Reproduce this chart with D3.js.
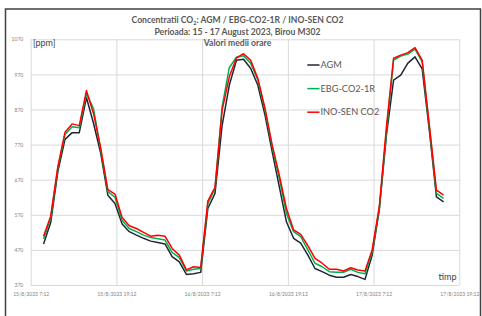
<!DOCTYPE html>
<html>
<head>
<meta charset="utf-8">
<script src="https://cdn.jsdelivr.net/npm/d3@7"></script>
<style>
  body { margin: 0; background: #fff; }
  svg { display: block; font-family: Lato, "Open Sans", sans-serif; }
</style>
</head>
<body>
<svg width="482" height="316"></svg>
<script>
// hourly means, 15/8/2023 9:00 -> 17/8/2023 17:00
const agm = [487,548,693,785,804,804,904,830,745,626,602,544,522,512,503,495,491,487,451,
  436,400,402,406,588,631,825,939,1010,1013,987,939,854,750,650,550,503,489,455,417,
  408,398,392,392,400,394,386,455,584,797,954,968,1002,1020,986,811,621,607];
const ebg = [501,560,702,799,821,818,916,872,756,636,620,554,531,522,512,505,502,498,463,
  448,410,415,417,602,645,878,989,1019,1023,1001,954,868,764,674,574,522,508,470,432,
  422,408,406,406,415,406,402,463,588,807,1011,1022,1028,1042,1006,821,631,617];
const ino = [509,566,707,805,829,824,924,858,760,642,629,562,539,531,520,509,512,509,474,
  455,413,422,420,609,648,868,963,1017,1029,1010,958,873,769,683,588,527,514,482,446,
  432,415,415,410,419,413,410,470,593,821,1016,1025,1032,1046,1011,826,640,626];
const seriesNames = ["AGM", "EBG-CO2-1R", "INO-SEN CO2"];
const seriesColors = ["#1f2633", "#00b050", "#ff0000"];
const yTicks = [370,470,570,670,770,870,970,1070];
const xTickLabels = ["15/8/2023 7:12","15/8/2023 19:12","16/8/2023 7:12","16/8/2023 19:12","17/8/2023 7:12","17/8/2023 19:12"];

const svg = d3.select("svg");
const m = {left: 30.7, right: 459.3, top: 39.3, bottom: 285};

const t0 = new Date(2023, 7, 15, 7, 12), t1 = new Date(2023, 7, 17, 19, 12);
const xTicks = xTickLabels.map((d, i) => d3.timeHour.offset(t0, 12 * i));
const times = d3.timeHour.range(new Date(2023, 7, 15, 9), new Date(2023, 7, 17, 18));

const x = d3.scaleTime().domain([t0, t1]).range([m.left, m.right]);
const y = d3.scaleLinear().domain([370, 1070]).range([m.bottom, m.top]);

// outer frame
svg.append("rect").attr("x", 5.5).attr("y", 9).attr("width", 475).attr("height", 320)
  .attr("fill", "none").attr("stroke", "#404040").attr("stroke-width", 1.5);

// gridlines
const gy = svg.append("g").attr("transform", `translate(${m.left},0)`)
  .call(d3.axisLeft(y).tickValues(yTicks).tickSize(-(m.right - m.left)).tickFormat(""));
const gx = svg.append("g").attr("transform", `translate(0,${m.bottom})`)
  .call(d3.axisBottom(x).tickValues(xTicks).tickSize(-(m.bottom - m.top)).tickFormat(""));
[gy, gx].forEach(g => {
  g.select(".domain").remove();
  g.selectAll("line").attr("stroke", "#d9d9d9").attr("stroke-width", 1);
});

// tick labels
const yAx = svg.append("g").attr("transform", `translate(${m.left - 4.5},0)`)
  .call(d3.axisLeft(y).tickValues(yTicks).tickSize(0).tickFormat(d3.format("d")));
const xAx = svg.append("g").attr("transform", `translate(0,${m.bottom + 4})`)
  .call(d3.axisBottom(x).tickValues(xTicks).tickSize(0).tickFormat((d, i) => xTickLabels[i]));
[yAx, xAx].forEach(g => {
  g.select(".domain").remove();
  g.selectAll("text").attr("fill", "#7f7f7f").style("font-size", "5px")
    .style("font-family", "Lato, sans-serif");
});

// lines
const line = d3.line().x((d, i) => x(times[i])).y(d => y(d));
[agm, ebg, ino].forEach((s, i) => {
  svg.append("path").datum(s).attr("d", line).attr("fill", "none")
    .attr("stroke", seriesColors[i]).attr("stroke-width", 1.5).attr("stroke-linejoin", "round");
});

// titles
const title = svg.append("g").attr("fill", "#595959").attr("font-weight", "bold")
  .attr("text-anchor", "middle").style("font-size", "8.6px");
const t1l = title.append("text").attr("x", 237.5).attr("y", 23);
t1l.append("tspan").text("Concentratii CO");
t1l.append("tspan").text("2").attr("dy", 2).style("font-size", "5.5px");
t1l.append("tspan").text(": AGM / EBG-CO2-1R / INO-SEN CO2").attr("dy", -2);
title.append("text").attr("x", 237.5).attr("y", 34.5).text("Perioada: 15 - 17 August 2023, Birou M302");
title.append("text").attr("x", 237.5).attr("y", 46).text("Valori medii orare");

svg.append("text").attr("x", 33).attr("y", 46).attr("fill", "#404040")
  .style("font-size", "9px").text("[ppm]");
svg.append("text").attr("x", 438.5).attr("y", 280).attr("fill", "#404040")
  .style("font-size", "9px").text("timp");

// legend
const lg = svg.append("g");
seriesNames.forEach((n, i) => {
  const yy = 65 + i * 23.6;
  lg.append("line").attr("x1", 307.3).attr("x2", 319.5).attr("y1", yy).attr("y2", yy)
    .attr("stroke", seriesColors[i]).attr("stroke-width", 1.5);
  lg.append("text").attr("x", 320.5).attr("y", yy + 3.2).attr("fill", "#595959")
    .style("font-size", "9.2px").text(n);
});
</script>
</body>
</html>
